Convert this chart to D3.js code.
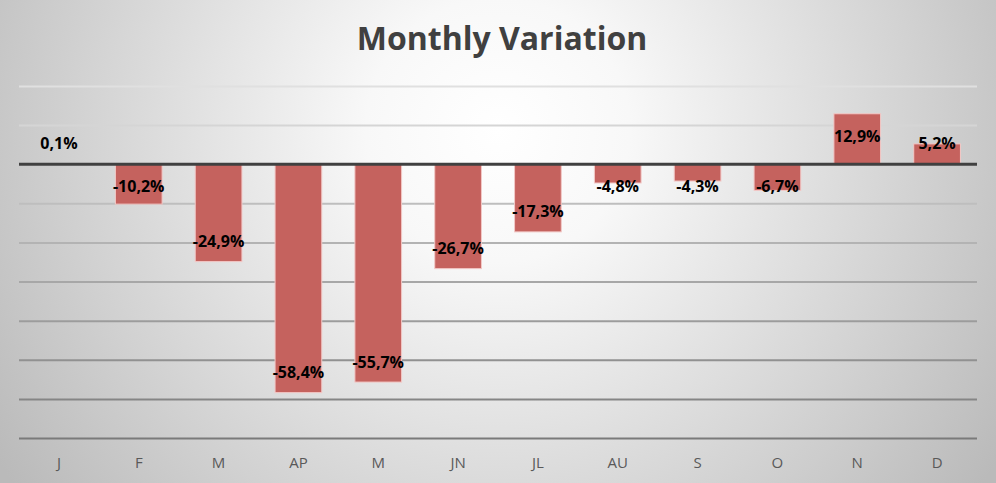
<!DOCTYPE html>
<html><head><meta charset="utf-8">
<script src="https://cdn.jsdelivr.net/npm/d3@7"></script>
<style>html,body{margin:0;padding:0;overflow:hidden;background:#fff}</style>
</head><body>
<svg id="chart" width="996" height="483"></svg>
<script>
const months = ["J","F","M","AP","M","JN","JL","AU","S","O","N","D"];
const values = [0.1,-10.2,-24.9,-58.4,-55.7,-26.7,-17.3,-4.8,-4.3,-6.7,12.9,5.2];
const labels = ["0,1%","-10,2%","-24,9%","-58,4%","-55,7%","-26,7%","-17,3%","-4,8%","-4,3%","-6,7%","12,9%","5,2%"];
const gridTicks = [20,10,-10,-20,-30,-40,-50,-60,-70];
const title = "Monthly Variation";

const W = 996, H = 483;
const svg = d3.select("#chart");
const defs = svg.append("defs");
const bg = defs.append("radialGradient").attr("id","bg").attr("gradientUnits","userSpaceOnUse")
  .attr("cx",498).attr("cy",130).attr("r",600);
bg.append("stop").attr("offset",0).attr("stop-color","#ffffff");
bg.append("stop").attr("offset",0.22).attr("stop-color","#f8f8f8");
bg.append("stop").attr("offset",1).attr("stop-color","#bababa");
svg.append("rect").attr("width",W).attr("height",H).attr("fill","url(#bg)");

const x = d3.scaleBand().domain(d3.range(12)).range([19,977]).paddingInner(0.415).paddingOuter(0.2075);
const y = d3.scaleLinear().domain([-70,20]).range([438,86]);
const gridColor = d3.scaleLinear().domain([86,438]).range(["#e0e0e0","#7a7a7a"]);

const yAxis = d3.axisLeft(y).tickValues(gridTicks).tickSize(-(977-19)).tickFormat("");
const ga = svg.append("g").attr("transform","translate(19,0)").call(yAxis);
ga.select(".domain").remove();
ga.selectAll(".tick line").attr("stroke",d=>gridColor(y(d))).attr("stroke-width",2);

svg.append("text").attr("x",W/2+4).attr("y",50).attr("text-anchor","middle")
  .attr("font-family","Open Sans, sans-serif").attr("font-weight","bold").attr("font-size",32)
  .attr("fill","#404040").text(title);

svg.append("g").selectAll("rect").data(values).join("rect")
  .attr("x",(d,i)=>x(i)).attr("width",x.bandwidth())
  .attr("y",d=>y(Math.max(0,d))).attr("height",d=>Math.abs(y(d)-y(0)))
  .attr("fill","#c5625e").attr("stroke","#f3c9c7").attr("stroke-width",1);

svg.append("line").attr("x1",19).attr("x2",977).attr("y1",y(0)).attr("y2",y(0))
  .attr("stroke","#404040").attr("stroke-width",3);

svg.append("g").selectAll("text").data(values).join("text")
  .attr("x",(d,i)=>x(i)+x.bandwidth()/2)
  .attr("y",d=> d<0 ? Math.max(y(d)-20, y(0)+22) : Math.min(y(d)+23, y(0)-21))
  .attr("dy","0.35em").attr("text-anchor","middle")
  .attr("font-family","Open Sans, sans-serif").attr("font-weight","bold").attr("font-size",16)
  .attr("fill","#000").text((d,i)=>labels[i]);

const xAxis = d3.axisBottom(x).tickSize(0).tickFormat(i=>months[i]);
const gx = svg.append("g").attr("transform","translate(0,438)").call(xAxis);
gx.select(".domain").remove();
gx.selectAll("text").attr("font-family","Open Sans, sans-serif").attr("font-size",15)
  .attr("fill","#595959").attr("dy","0").attr("y",30);
</script>
</body></html>
